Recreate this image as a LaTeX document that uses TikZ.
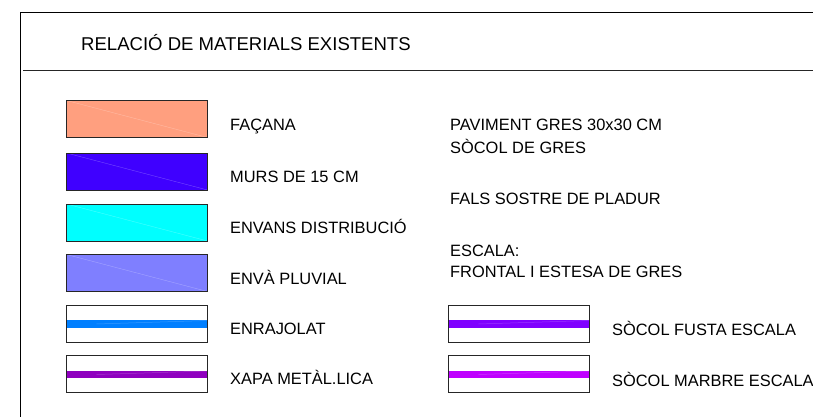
\documentclass[tikz,border=0pt]{standalone}
\usepackage{fontspec}
\setmainfont{Liberation Sans}
\definecolor{cfac}{HTML}{FF9F7F}
\definecolor{cmur}{HTML}{3F00FF}
\definecolor{cenv}{HTML}{00FFFF}
\definecolor{cplu}{HTML}{7F7FFF}
\definecolor{cenr}{HTML}{007FFF}
\definecolor{cxap}{HTML}{8F00BF}
\definecolor{cfus}{HTML}{7F00FF}
\definecolor{cmar}{HTML}{BF00FF}
\tikzset{
  frameline/.style={draw=black,line width=0.8pt},
  swatchbox/.style={draw=black!85,line width=0.9pt},
  seam/.style={draw=white,opacity=0.3,line width=0.35pt},
  lab/.style={anchor=base west,inner sep=0pt,font=\fontsize{16.4}{16}\selectfont},
  titletext/.style={anchor=base west,inner sep=0pt,font=\fontsize{18.55}{18}\selectfont},
}
\newcommand{\fillswatch}[3]{%
  \fill[#1] (#2,#3) rectangle ++(141,37);
  \draw[seam] (#2,#3) -- ++(141,37);
  \draw[swatchbox] (#2,#3) rectangle ++(141,37);}
\newcommand{\bandswatch}[3]{%
  \fill[#1] (#2,#3+15) rectangle ++(141,7.5);
  \draw[white,opacity=0.2,line width=0.5pt] (#2+30,#3+19) -- (#2+141,#3+15.5);
  \draw[swatchbox] (#2,#3) rectangle ++(141,37);}
\begin{document}
\begin{tikzpicture}[x=1pt,y=-1pt]
\useasboundingbox (0,0) rectangle (813,417);
\fill[white] (0,0) rectangle (813,417);
\draw[frameline] (813,12.5) -- (20.5,12.5) -- (20.5,417);
\draw[frameline,draw=black!85] (23,70.5) -- (813,70.5);
\node[titletext] (title) at (81,51) {RELACIÓ DE MATERIALS EXISTENTS};
\fillswatch{cfac}{66.5}{100.5}
\fillswatch{cmur}{66.5}{153}
\fillswatch{cenv}{66.5}{204}
\fillswatch{cplu}{66.5}{254.5}
\bandswatch{cenr}{66.5}{305}
\bandswatch{cxap}{66.5}{355.5}
\bandswatch{cfus}{448.5}{305}
\bandswatch{cmar}{448.5}{355.5}
\node[lab] (a) at (230,130) {FAÇANA};
\node[lab] (b) at (230,182) {MURS DE 15 CM};
\node[lab] (c) at (230,233) {ENVANS DISTRIBUCIÓ};
\node[lab] (d) at (230,284) {ENVÀ PLUVIAL};
\node[lab] (e) at (230,334) {ENRAJOLAT};
\node[lab] (f) at (230,384) {XAPA METÀL.LICA};
\node[lab] (g) at (450,131) {PAVIMENT GRES 30x30 CM};
\node[lab] (h) at (450,153) {SÒCOL DE GRES};
\node[lab] (i) at (450,204) {FALS SOSTRE DE PLADUR};
\node[lab] (j) at (450,256) {ESCALA:};
\node[lab] (k) at (450,277) {FRONTAL I ESTESA DE GRES};
\node[lab] (l) at (612,335) {SÒCOL FUSTA ESCALA};
\node[lab] (m) at (612,386) {SÒCOL MARBRE ESCALA};
\end{tikzpicture}
\end{document}
